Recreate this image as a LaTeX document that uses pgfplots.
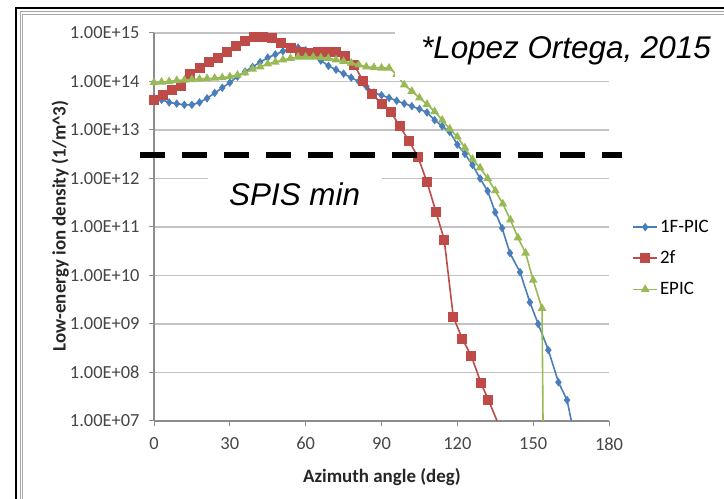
\documentclass[border=0pt]{standalone}
\usepackage{fontspec}
\setmainfont{Carlito}
\newfontfamily\arialfont{Liberation Sans}
\usepackage{pgfplots}
\pgfplotsset{compat=1.18}
\definecolor{cblue}{RGB}{74,126,187}
\definecolor{cred}{RGB}{190,75,72}
\definecolor{cgreen}{RGB}{152,185,84}
\definecolor{gridc}{RGB}{195,195,195}
\definecolor{axisc}{RGB}{140,140,140}
\definecolor{tickc}{RGB}{70,70,70}
\begin{document}
\begin{tikzpicture}[x=1bp,y=1bp]
\useasboundingbox (0,0) rectangle (724,499);
\fill[white] (0,0) rectangle (724,499);
% frame
\draw[black, line width=2.5bp] (16,-5) -- (16,491) -- (730,491);
\draw[black!35, line width=1bp] (20,-5) -- (20,487) -- (730,487);
\draw[black!35, line width=1bp] (22.5,-5) -- (22.5,484.5) -- (730,484.5);
\begin{axis}[
  at={(154bp,78bp)}, anchor=south west, scale only axis,
  width=455bp, height=388bp,
  xmin=0, xmax=180, ymin=1e7, ymax=1e15, ymode=log,
  xtick={0,30,60,90,120,150,180},
  ytick={1e7,1e8,1e9,1e10,1e11,1e12,1e13,1e14,1e15},
  yticklabels={1.00E+07,1.00E+08,1.00E+09,1.00E+10,1.00E+11,1.00E+12,1.00E+13,1.00E+14,1.00E+15},
  yminorticks=false,
  hide obscured x ticks=false, hide obscured y ticks=false,
  /pgf/number format/assume math mode=true,
  ymajorgrids, grid style={gridc, line width=1.3bp},
  axis x line*=bottom, axis y line*=left,
  axis line style={axisc, line width=1.8bp, -},
  tick style={axisc, line width=1bp}, tick align=outside, major tick length=5bp,
  tick label style={font=\fontsize{18.5}{18.5}\selectfont, text=tickc},
  yticklabel style={xshift=-6bp},
  xticklabel style={yshift=-8bp},
  xlabel={\bfseries Azimuth angle (deg)},
  ylabel={\bfseries Low-energy ion density (1/m\textasciicircum 3)},
  label style={font=\fontsize{19}{19}\selectfont, text=black!85},
  xlabel style={at={(axis description cs:0.501,0)}, anchor=center, yshift=-56bp},
  ylabel style={at={(axis description cs:-0.206,0.503)}, anchor=center},
  clip mode=individual,
  legend style={at={(axis description cs:1.051,0.523)}, anchor=north west, draw=none, fill=none,
    font=\fontsize{19}{19}\selectfont, row sep=13bp, inner sep=0pt},
  legend cell align=left,
  legend image code/.code={\draw[mark repeat=2,mark phase=2] plot coordinates {(0bp,0bp) (12bp,0bp) (24bp,0bp)};},
]
\addplot[cblue, line width=1.6bp, mark=diamond*, mark size=3bp] coordinates {
(0,4.6e13) (3,4.2e13) (6,3.7e13) (9,3.5e13) (12,3.3e13) (15,3.3e13) (18,3.7e13)
(21,4.5e13) (24,5.8e13) (27,7.4e13) (30,9.5e13) (33,1.26e14) (36,1.6e14) (39,2.0e14)
(42,2.5e14) (45,3.1e14) (48,3.6e14) (51,4.2e14) (54,4.9e14) (57,5.0e14) (60,4.4e14)
(63,3.5e14) (66,2.7e14) (69,2.1e14) (72,1.75e14) (75,1.45e14) (78,1.2e14) (81,1.0e14)
(84,7.9e13) (87,5.9e13) (90,5.2e13) (93,4.6e13) (96,4.0e13) (99,3.5e13) (102,3.1e13)
(105,2.7e13) (108,2.3e13) (111,1.6e13) (114,1.2e13) (117,9.1e12) (120,5.0e12)
(123,3.2e12) (126,1.9e12) (129,1.0e12) (132,5.5e11) (135,2.0e11) (137.7,9.5e10)
(140.8,2.9e10) (144.8,1.17e10) (148.7,2.8e9) (152,1.0e9) (156,2.9e8) (160,6.3e7)
(163.4,2.7e7) (166,6e6)
};
\addlegendentry{1F-PIC}
\addplot[cred, line width=1.6bp, mark=square*, mark size=4.2bp] coordinates {
(0,4.2e13) (3.6,5.2e13) (7.2,6.6e13) (10.8,7.9e13) (14.4,1.45e14) (18,1.9e14)
(21.6,2.5e14) (25.2,3.0e14) (28.8,4.0e14) (32.4,5.4e14) (36,6.9e14) (39.6,8.1e14)
(43.2,8.3e14) (46.8,7.9e14) (50.4,6.3e14) (54,4.9e14) (57.6,4.1e14) (61.2,3.9e14)
(64.8,4.0e14) (68.4,4.1e14) (72,4.0e14) (75.6,3.3e14) (79.2,2.2e14) (82.8,1.0e14)
(86.4,5.5e13) (90,3.5e13) (93.6,2.4e13) (97.2,1.2e13) (100.8,6.0e12) (104.4,2.8e12)
(108,8.5e11) (111.6,2.0e11) (114.8,5.5e10) (118.4,1.4e9) (122,4.9e8) (125.5,2.2e8)
(129.4,6.0e7) (132.3,2.7e7) (136.5,8e6)
};
\addlegendentry{2f}
\addplot[cgreen, line width=1.6bp, mark=triangle*, mark size=3.5bp] coordinates {
(0,9.5e13) (3,9.7e13) (6,1.0e14) (9,1.05e14) (12,1.07e14) (15,1.1e14) (18,1.12e14)
(21,1.15e14) (24,1.17e14) (27,1.2e14) (30,1.26e14) (33,1.35e14) (36,1.5e14) (39,1.8e14)
(42,2.0e14) (45,2.3e14) (48,2.5e14) (51,2.8e14) (54,3.0e14) (57,3.2e14) (60,3.2e14)
(63,3.2e14) (66,3.1e14) (69,3.0e14) (72,2.8e14) (75,2.6e14) (78,2.4e14) (81,2.2e14)
(84,2.0e14) (87,1.95e14) (90,1.9e14) (93,1.9e14) (96,1.4e14) (99,8.5e13) (102,6.3e13)
(105,4.6e13) (108,3.4e13) (111,2.4e13) (114,1.6e13) (117,1.05e13) (120,7.2e12)
(123,4.3e12) (126,2.5e12) (129,1.66e12) (132,1.0e12) (135,5.6e11) (138,3.0e11)
(141,1.4e11) (144,6.0e10) (147,2.9e10) (150,8.0e9) (153.5,2.1e9) (154.4,1e4)
};
\addlegendentry{EPIC}
\draw[black, line width=6bp, dash pattern=on 25bp off 17bp] (axis cs:-5.5,3.0e12) -- (axis cs:185.1,3.0e12);
\end{axis}
% annotation boxes
\fill[white] (395,419) rectangle (724,481);
\node[anchor=base, inner sep=0pt, font=\arialfont\itshape\fontsize{31.5}{31.5}\selectfont] at (566,440) {*Lopez Ortega, 2015};
\fill[white] (208,277) rectangle (382,331);
\node[anchor=base west, inner sep=0pt, font=\arialfont\itshape\fontsize{31.5}{31.5}\selectfont] at (229,293) {SPIS min};
\end{tikzpicture}
\end{document}
